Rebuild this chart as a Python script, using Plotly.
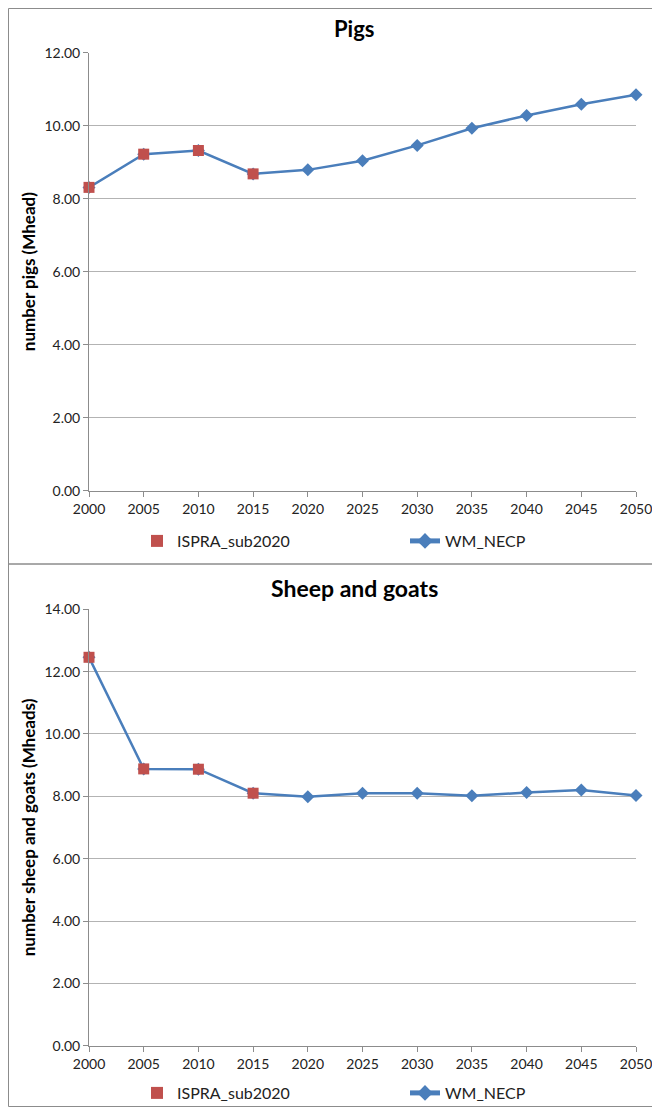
import plotly.graph_objects as go

years = [2000, 2005, 2010, 2015, 2020, 2025, 2030, 2035, 2040, 2045, 2050]
ispra_years = [2000, 2005, 2010, 2015]

pigs_ispra = [8.31, 9.22, 9.32, 8.68]
pigs_wm = [8.31, 9.22, 9.32, 8.68, 8.79, 9.04, 9.46, 9.93, 10.28, 10.59, 10.85]

sheep_ispra = [12.46, 8.88, 8.87, 8.10]
sheep_wm = [12.46, 8.88, 8.87, 8.10, 7.99, 8.10, 8.10, 8.02, 8.12, 8.20, 8.03]

titles = ["Pigs", "Sheep and goats"]
ytitles = ["number pigs (Mhead)", "number sheep and goats (Mheads)"]
yranges = [[0, 12], [0, 14]]

# page body has an 8px margin
OFF = 8
W, H = 660 - OFF, 1115 - 2 * OFF
FONT = "Lato"
BLUE = "#4A7EBB"
RED = "#C0504D"
GRID = "#B3B3B3"
AXIS = "#8C8C8C"

def px_x(x):
    return (x - OFF) / W

def px_y(y):
    return 1 - (y - OFF) / H

fig = go.Figure()

panels = [
    dict(wm=pigs_wm, isp=pigs_ispra, xa="x", ya="y", leg="legend"),
    dict(wm=sheep_wm, isp=sheep_ispra, xa="x2", ya="y2", leg="legend2"),
]

for p in panels:
    fig.add_trace(go.Scatter(
        x=years, y=p["wm"], name="WM_NECP", mode="lines+markers",
        line=dict(color=BLUE, width=2.5),
        marker=dict(symbol="diamond", size=10, color=BLUE),
        xaxis=p["xa"], yaxis=p["ya"], legend=p["leg"], legendrank=2,
        cliponaxis=False,
    ))
    fig.add_trace(go.Scatter(
        x=ispra_years, y=p["isp"], name="ISPRA_sub2020", mode="markers",
        marker=dict(symbol="square", size=11, color=RED),
        xaxis=p["xa"], yaxis=p["ya"], legend=p["leg"], legendrank=1,
        cliponaxis=False,
    ))

xdom = [px_x(89), px_x(636)]
ydoms = [[px_y(490.7), px_y(52.7)], [px_y(1045.7), px_y(609.3)]]

common_x = dict(
    range=[2000, 2050], tickmode="array", tickvals=years,
    ticktext=[str(v) for v in years],
    showgrid=False, showline=True, linecolor=AXIS, linewidth=1,
    ticks="outside", ticklen=5, tickcolor=AXIS,
    tickfont=dict(family=FONT, size=14, color="#222222"),
    ticklabeloverflow="allow",
    zeroline=False, fixedrange=True, automargin=False,
)

layout_axes = {}
for i, (xa, ya) in enumerate([("xaxis", "yaxis"), ("xaxis2", "yaxis2")]):
    layout_axes[xa] = dict(common_x, domain=xdom, anchor="y" if i == 0 else "y2")
    layout_axes[ya] = dict(
        domain=ydoms[i], anchor="x" if i == 0 else "x2",
        range=yranges[i], dtick=2, tick0=0, tickformat=".2f",
        showgrid=True, gridcolor=GRID, gridwidth=1,
        showline=True, linecolor=AXIS, linewidth=1,
        ticks="outside", ticklen=5, tickcolor=AXIS,
        tickfont=dict(family=FONT, size=14, color="#222222"),
        zeroline=False, fixedrange=True, automargin=False,
        title=dict(text="<b>" + ytitles[i] + "</b>",
                   font=dict(family=FONT, size=17, color="#000000"),
                   standoff=4),
    )

fig.update_layout(**layout_axes)

legend_common = dict(
    orientation="h", xanchor="left", yanchor="middle",
    font=dict(family=FONT, size=16, color="#222222"),
    bgcolor="rgba(0,0,0,0)", entrywidth=223, entrywidthmode="pixels",
    itemsizing="constant",
)

fig.update_layout(
    width=W, height=H,
    margin=dict(l=0, r=0, t=0, b=0, autoexpand=False),
    paper_bgcolor="white", plot_bgcolor="white",
    showlegend=True,
    legend=dict(legend_common, x=px_x(137), y=px_y(541)),
    legend2=dict(legend_common, x=px_x(137), y=px_y(1093)),
    annotations=[
        dict(text="<b>" + titles[0] + "</b>", x=px_x(354), y=px_y(28), xref="paper", yref="paper",
             showarrow=False, xanchor="center", yanchor="middle",
             font=dict(family=FONT, size=22, color="#000000")),
        dict(text="<b>" + titles[1] + "</b>", x=px_x(354), y=px_y(588), xref="paper", yref="paper",
             showarrow=False, xanchor="center", yanchor="middle",
             font=dict(family=FONT, size=23, color="#000000")),
    ],
    shapes=[
        dict(type="rect", xref="paper", yref="paper", x0=px_x(8.5), x1=px_x(675),
             y0=px_y(564), y1=px_y(8.5), line=dict(color=AXIS, width=1)),
        dict(type="rect", xref="paper", yref="paper", x0=px_x(8.5), x1=px_x(675),
             y0=px_y(1106.5), y1=px_y(564), line=dict(color=AXIS, width=1)),
    ],
)

fig.write_html("out.html")
